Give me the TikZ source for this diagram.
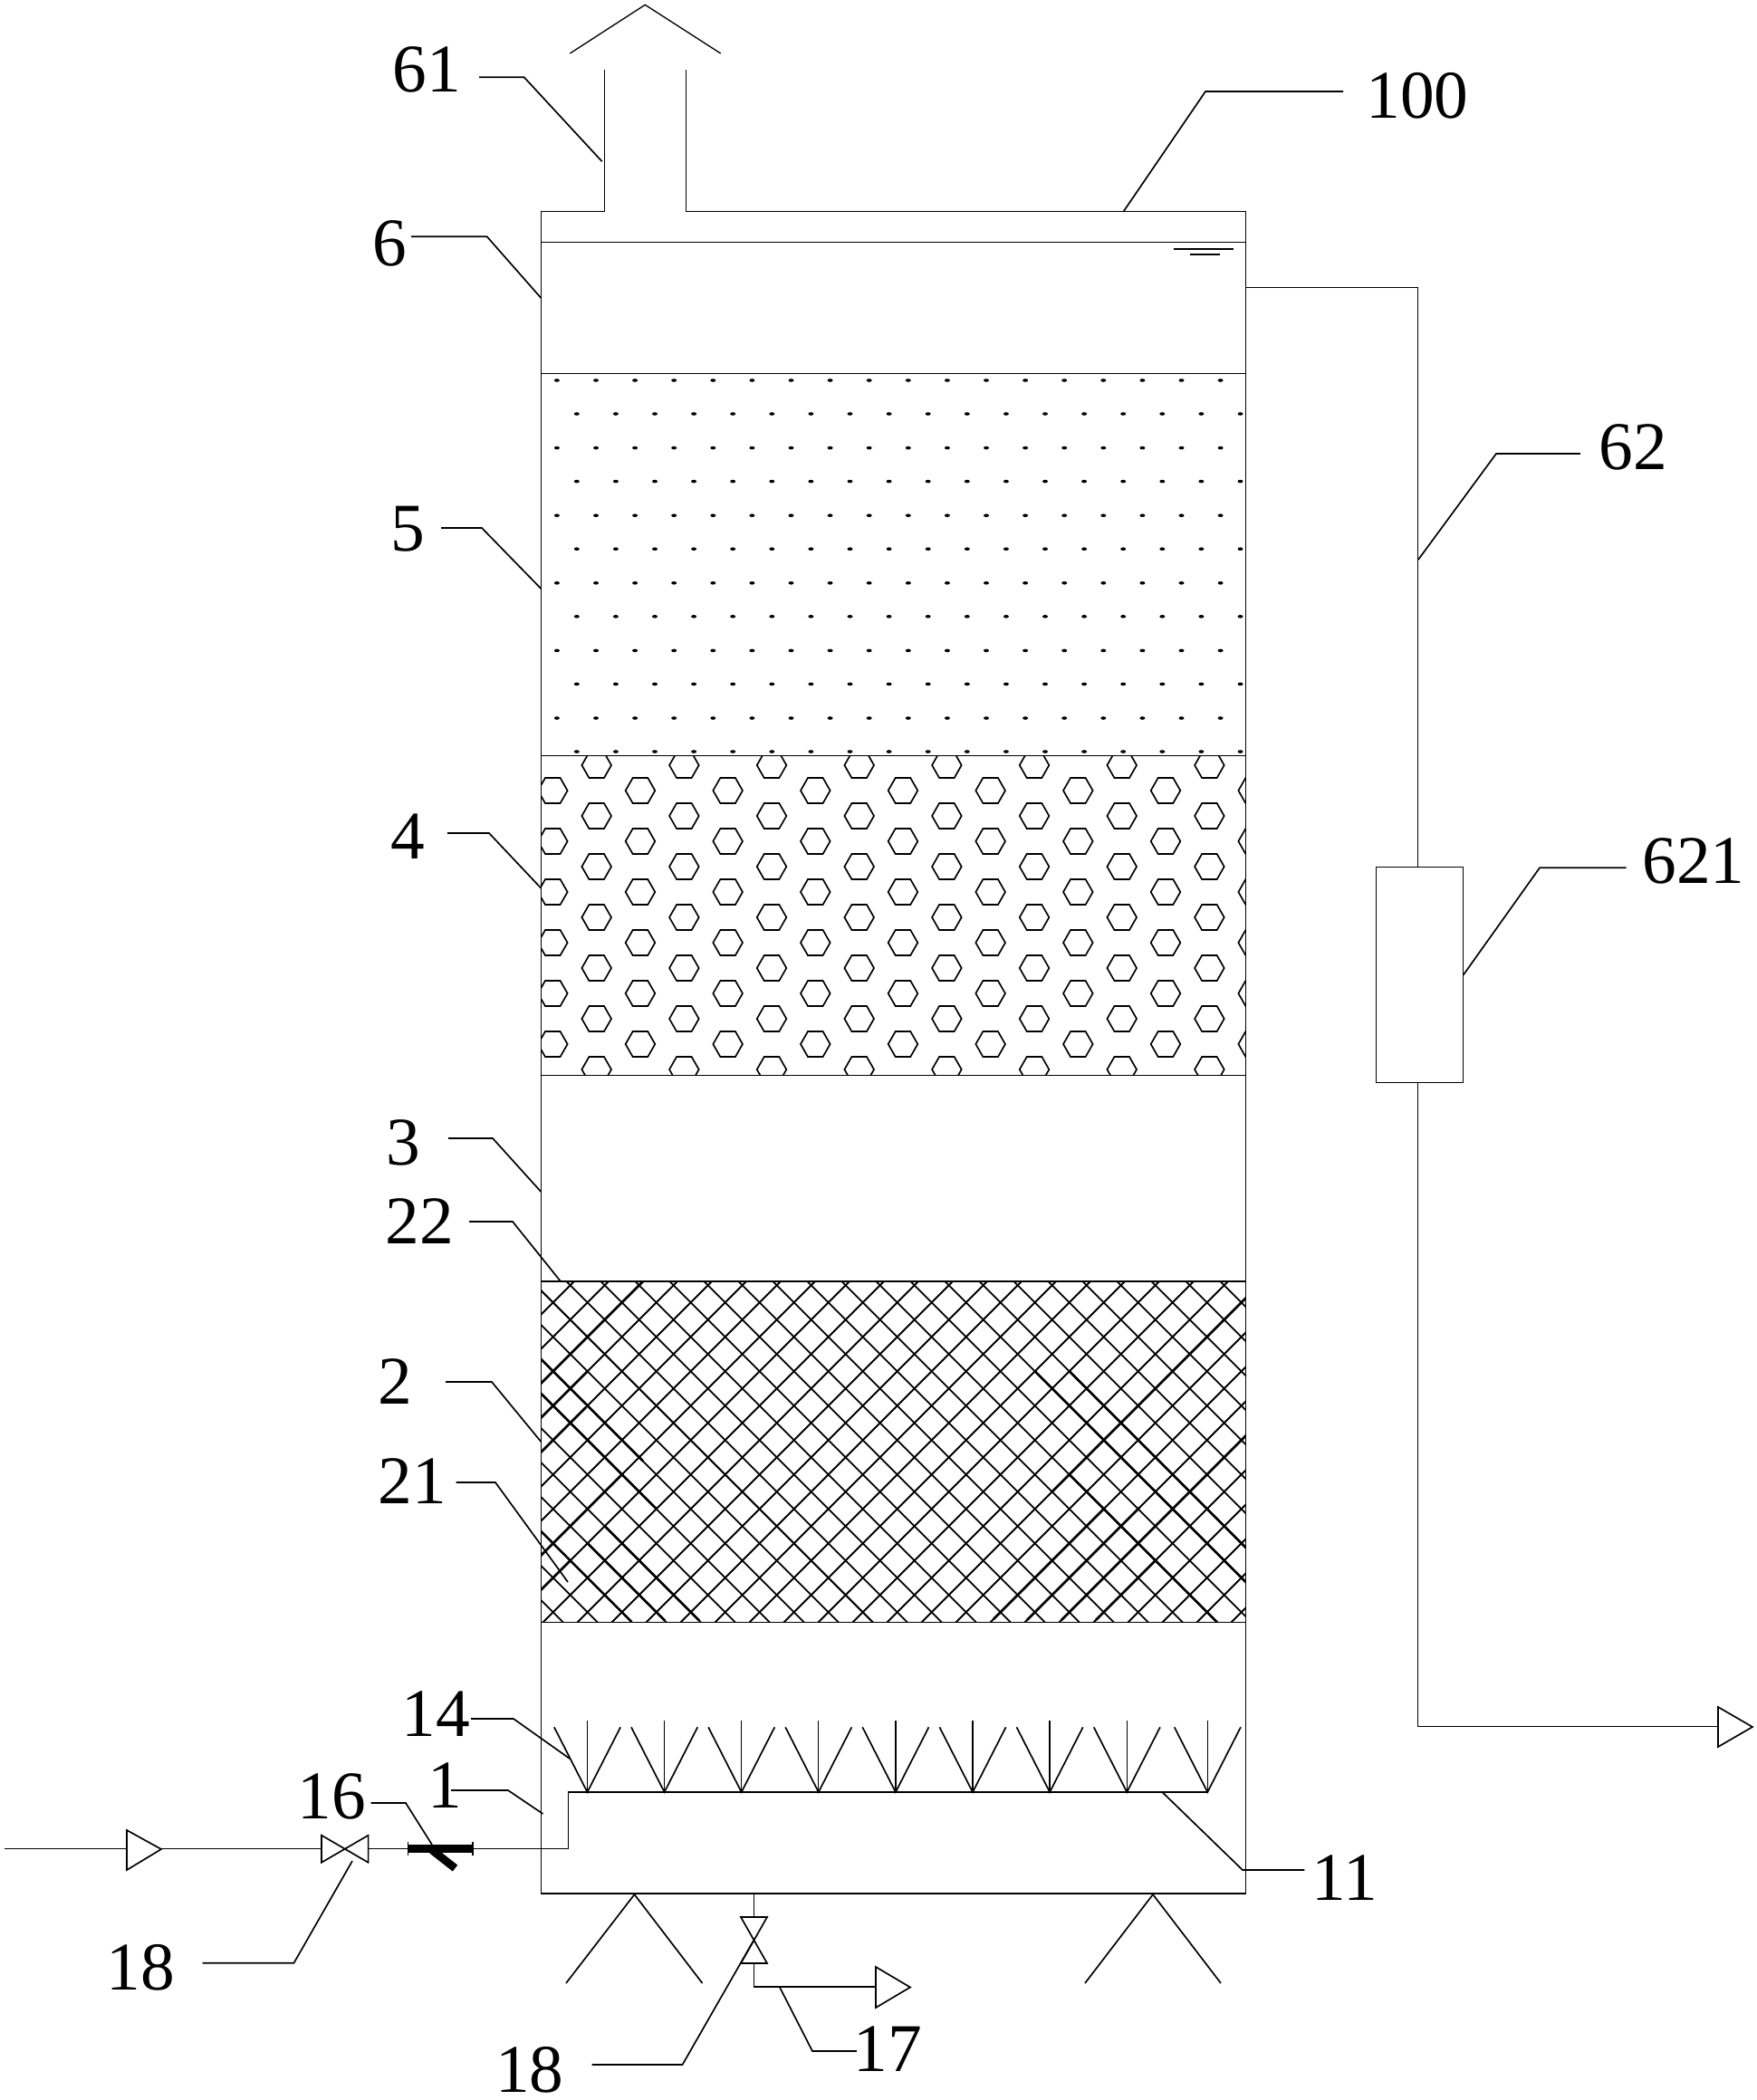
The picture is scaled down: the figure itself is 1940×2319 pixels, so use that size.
\documentclass[tikz,border=0pt]{standalone}
\usepackage{fontspec}
\setmainfont{Liberation Serif}
\tikzset{
    wall/.style={draw=black,line width=0.75pt},
    pipe/.style={draw=black,line width=0.75pt},
    leader/.style={draw=black,line width=0.95pt},
    mesh/.style={draw=black,line width=1.05pt},
    meshdark/.style={draw=black,line width=1.5pt},
    cell/.style={draw=black,line width=0.95pt},
    tag/.style={inner sep=0pt,font=\fontsize{42.9}{50}\selectfont}
  }

\begin{document}
\begin{tikzpicture}[x=0.02cm,y=-0.02cm]
 \useasboundingbox (0,0) rectangle (1940,2319);
 %Tower
     \draw[wall] (757.3,77) -- (757.3,233.3) -- (1375.7,233.3) -- (1375.7,2091) -- (597.3,2091) -- (597.3,233.3) -- (667.3,233.3) -- (667.3,77);
     \draw[wall] (629.3,59) -- (712.3,5.3) -- (795.7,59);
     \foreach \y in {267.3,412.5,834.8,1187.3,1415,1791.3}
         \draw[wall] (597.3,\y) -- (1375.7,\y);
 %Water level
     \draw[wall] (1296,275) -- (1362,275);
     \draw[wall] (1314,281) -- (1347,281);
 %Dots
     \foreach \j in {0,...,5}
       \foreach \k in {0,...,17} {
         \fill (614.9+43.1*\k,420+74.6*\j) ellipse (3 and 1.8);
         \fill (636.8+43.1*\k,457+74.6*\j) ellipse (3 and 1.8);
       }
 %Hexagons
     \begin{scope}
     \clip (597.3,834.8) rectangle (1375.7,1187.3);
     \foreach \k in {0,...,7}
       \foreach \j in {0,...,6}
         \draw[cell,shift={(658.7+96.67*\k,845+56*\j)}] (-16.3,0) -- (-8.3,14) -- (8.3,14) -- (16.3,0) -- (8.3,-14) -- (-8.3,-14) -- cycle;
     \foreach \k in {0,...,8}
       \foreach \j in {0,...,5}
         \draw[cell,shift={(610.3+96.67*\k,873+56*\j)}] (-16.3,0) -- (-8.3,14) -- (8.3,14) -- (16.3,0) -- (8.3,-14) -- (-8.3,-14) -- cycle;
     \end{scope}
 %Mesh
     \begin{scope}
     \clip (597.3,1415) rectangle (1375.7,1791.3);
     \foreach \k in {0,...,32} {
         \draw[mesh] (610.7+38*\k-500,1438.3-500) -- (610.7+38*\k+900,1438.3+900);
         \draw[mesh] (610.7-38*\k-500,1438.3-500) -- (610.7-38*\k+900,1438.3+900);
         \draw[mesh] (610.7+38*\k-500,1438.3+500) -- (610.7+38*\k+900,1438.3-900);
     }
     % darker strands, rising
     \foreach \c/\a/\b in {2125/597/720,2163/597/649,2201/597/647,2315/597/687,2353/597/630,2809/1162/1376,2961/1172/1376,2885/1097/1219,2923/1134/1258,2999/1210/1277}
         \draw[meshdark] (\a,\c-\a) -- (\b,\c-\b);
     % darker strands, falling
     \foreach \c/\a/\b in {903.6/597/710,941.6/597/724,1093.6/597/697,1017.6/668/772,1055.6/649/734,371.6/1143/1376,333.6/1181/1376,447.6/1181/1344}
         \draw[meshdark] (\a,\a+\c) -- (\b,\b+\c);
     \end{scope}
 %Nozzles
     \foreach \x in {648.5,733.6,818.7,903.8,988.9,1074,1159.1,1244.3,1333.3} {
         \draw[pipe] (\x,1900) -- (\x,1979);
         \draw[leader] (\x-36.6,1907.3) -- (\x,1979) -- (\x+36.6,1907.3);
     }
 %Legs
     \draw[leader] (625,2190) -- (700.5,2092) -- (775.5,2190);
     \draw[leader] (1198,2190) -- (1273,2092) -- (1348,2190);
 %Inlet
     \draw[pipe] (5,2041.5) -- (140,2041.5);
     \draw[leader] (140,2021) -- (178,2042) -- (140,2065) -- cycle;
     \draw[pipe] (178,2041.5) -- (355,2041.5);
     \draw[leader] (355,2026.7) -- (406.6,2056.7) -- (406.6,2026.7) -- (355,2056.7) -- cycle;
     \draw[pipe] (406.6,2041.5) -- (627.5,2041.5) -- (627.5,1979) -- (1333.3,1979);
     \fill (450.5,2037) rectangle (522,2046);
     \draw[pipe] (450.5,2034) -- (450.5,2049);
     \draw[pipe] (522,2034) -- (522,2049);
     \draw[line width=5pt] (477,2043) -- (502.5,2063);
 %Drain
     \draw[pipe] (832.6,2091) -- (832.6,2117);
     \draw[leader] (818,2117) -- (847,2117) -- (818,2168) -- (847,2168) -- cycle;
     \draw[pipe] (832.6,2168) -- (832.6,2194) -- (967,2194);
     \draw[leader] (967,2172) -- (1005,2194.5) -- (967,2217) -- cycle;
 %Outlet
     \node[draw,line width=0.75pt,minimum width=1.928cm,minimum height=4.76cm,inner sep=0pt] (meter) at (1567.5,1076.3) {};
     \coordinate (bend) at (1565.3,317.4);
     \draw[pipe] (1375.7,317.4) -- (bend) -- (bend |- meter.north);
     \draw[pipe] (bend |- meter.south) -- (1565.3,1906.5) -- (1897,1906.5);
     \draw[leader] (1897,1885) -- (1935,1907) -- (1897,1929) -- cycle;
 %Labels
     \node[tag] (l61) at (471,77) {61};
     \node[tag] (l100) at (1565,106) {100};
     \node[tag] (l6) at (430,269) {6};
     \node[tag] (l5) at (450,584) {5};
     \node[tag] (l4) at (450,924) {4};
     \node[tag] (l3) at (445,1262) {3};
     \node[tag] (l22) at (463,1349) {22};
     \node[tag] (l2) at (436,1526) {2};
     \node[tag] (l21) at (455.5,1636) {21};
     \node[tag] (l14) at (481,1892.5) {14};
     \node[tag] (l16) at (366.5,1984) {16};
     \node[tag] (l1) at (491,1972) {1};
     \node[tag] (l18a) at (155.6,2173) {18};
     \node[tag] (l18b) at (584.7,2286) {18};
     \node[tag] (l17) at (980,2263) {17};
     \node[tag] (l11) at (1485,2074) {11};
     \node[tag] (l62) at (1803,494) {62};
     \node[tag] (l621) at (1870,951) {621};
 %Leaders
     \coordinate (k61) at (578.7,85.3);   \coordinate (e61) at (664.7,178.3);
     \coordinate (k100) at (1331,101);    \coordinate (e100) at (1240.7,233.3);
     \coordinate (k6) at (537.7,261.3);   \coordinate (e6) at (597.3,329);
     \coordinate (k5) at (532,583);       \coordinate (e5) at (597.3,650);
     \coordinate (k4) at (540,920);       \coordinate (e4) at (597.3,980.7);
     \coordinate (k3) at (544,1257);      \coordinate (e3) at (597.3,1316);
     \coordinate (k22) at (566,1349);     \coordinate (e22) at (619,1415);
     \coordinate (k2) at (543,1526);      \coordinate (e2) at (597.3,1592);
     \coordinate (k21) at (547,1637);     \coordinate (e21) at (627,1747);
     \coordinate (k14) at (567,1898);     \coordinate (e14) at (629,1942);
     \coordinate (k16) at (448,1991);     \coordinate (e16) at (477,2037);
     \coordinate (k1) at (561,1977);      \coordinate (e1) at (599.5,2003);
     \coordinate (k18a) at (324.5,2167.7);\coordinate (e18a) at (389,2055);
     \coordinate (k18b) at (753.5,2280);  \coordinate (e18b) at (832,2143);
     \coordinate (k17) at (897,2265);     \coordinate (e17) at (860.7,2194);
     \coordinate (k11) at (1372,2065);    \coordinate (e11) at (1283.3,1979);
     \coordinate (k62) at (1652,501);     \coordinate (e62) at (1566,618);
     \coordinate (k621) at (1700,958.3);  \coordinate (e621) at (1615.7,1076.7);
     \draw[leader] (k61 -| l61.east) ++(20,0) -- (k61) -- (e61);
     \draw[leader] (k100 -| l100.west) ++(-25,0) -- (k100) -- (e100);
     \draw[leader] (k6 -| l6.east) ++(5,0) -- (k6) -- (e6);
     \draw[leader] (k5 -| l5.east) ++(18,0) -- (k5) -- (e5);
     \draw[leader] (k4 -| l4.east) ++(25,0) -- (k4) -- (e4);
     \draw[leader] (k3 -| l3.east) ++(31,0) -- (k3) -- (e3);
     \draw[leader] (k22 -| l22.east) ++(17,0) -- (k22) -- (e22);
     \draw[leader] (k2 -| l2.east) ++(37,0) -- (k2) -- (e2);
     \draw[leader] (k21 -| l21.east) ++(10,0) -- (k21) -- (e21);
     \draw[leader] (k14 -| l14.east) ++(1,0) -- (k14) -- (e14);
     \draw[leader] (k16 -| l16.east) ++(5,0) -- (k16) -- (e16);
     \draw[leader] (k1 -| l1.east) ++(-12,0) -- (k1) -- (e1);
     \draw[leader] (k18a -| l18a.east) ++(30,0) -- (k18a) -- (e18a);
     \draw[leader] (k18b -| l18b.east) ++(31,0) -- (k18b) -- (e18b);
     \draw[leader] (k17 -| l17.west) ++(4,0) -- (k17) -- (e17);
     \draw[leader] (k11 -| l11.west) ++(-8,0) -- (k11) -- (e11);
     \draw[leader] (k62 -| l62.west) ++(-20,0) -- (k62) -- (e62);
     \draw[leader] (k621 -| l621.west) ++(-17.5,0) -- (k621) -- (e621);
 \end{tikzpicture}
\end{document}
